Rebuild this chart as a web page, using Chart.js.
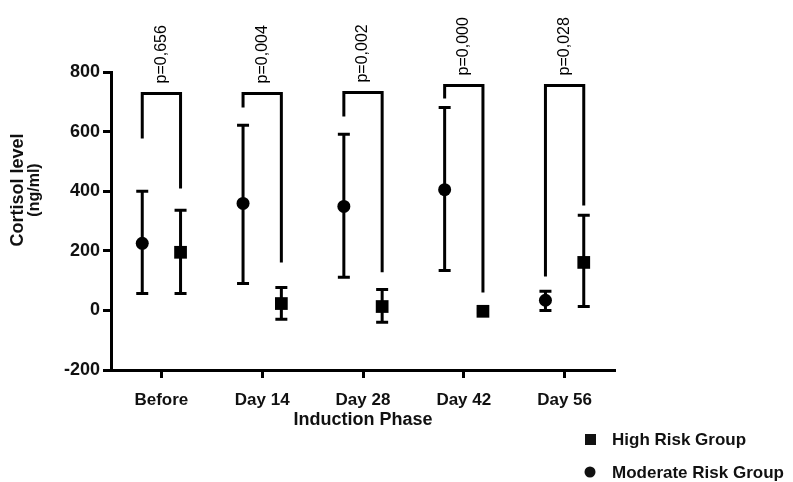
<!DOCTYPE html>
<html>
<head>
<meta charset="utf-8">
<script src="https://cdn.jsdelivr.net/npm/chart.js@4.4.0/dist/chart.umd.min.js"></script>
<style>
  html, body { margin: 0; padding: 0; background: #fff; }
  #wrap { position: relative; width: 793px; height: 482px; }
</style>
</head>
<body>
<div id="wrap"><canvas id="myChart" width="793" height="482"></canvas></div>
<script>
var categories = ['Before', 'Day 14', 'Day 28', 'Day 42', 'Day 56'];

// moderate risk group (circles, left of each pair)
var moderateMean  = [225, 359, 349, 405, 34];
var moderateUpper = [400, 621, 591, 681, 64];
var moderateLower = [57, 90, 111, 134, 0];

// high risk group (squares, right of each pair)
var highMean  = [195, 23, 13, -3, 161];
var highUpper = [336, 77, 70, 4, 319];
var highLower = [57, -30, -40, -8, 13];

// significance brackets
var pValues = ['p=0,656', 'p=0,004', 'p=0,002', 'p=0,000', 'p=0,028'];
var bracketTop = [728, 728, 731, 755, 755];
var bracketLeftEnd = [577, 681, 651, 711, 114];
var bracketRightEnd = [409, 161, 128, 60, 352];

var yTicks = [-200, 0, 200, 400, 600, 800];

var leftShift = -0.19, rightShift = 0.19;
var FONT = '"Liberation Sans", Arial, sans-serif';

function toPoints(means, shift) {
    var pts = [];
    for (var i = 0; i < means.length; i++) {
        pts.push({x: i + shift, y: means[i]});
    }
    return pts;
}

var extras = {
    id: 'extras',
    beforeDatasetsDraw: function(chart) {
        var ctx = chart.ctx, xs = chart.scales.x, ys = chart.scales.y;
        ctx.save();
        ctx.strokeStyle = '#000';
        ctx.lineWidth = 3;
        ctx.lineCap = 'butt';
        function errBar(xv, lo, hi) {
            var px = xs.getPixelForValue(xv);
            var top = ys.getPixelForValue(hi), bot = ys.getPixelForValue(lo);
            ctx.beginPath();
            ctx.moveTo(px, top); ctx.lineTo(px, bot);
            ctx.moveTo(px - 6, top); ctx.lineTo(px + 6, top);
            ctx.moveTo(px - 6, bot); ctx.lineTo(px + 6, bot);
            ctx.stroke();
        }
        for (var i = 0; i < categories.length; i++) {
            errBar(i + leftShift, moderateLower[i], moderateUpper[i]);
            errBar(i + rightShift, highLower[i], highUpper[i]);

            // bracket
            var lx = xs.getPixelForValue(i + leftShift), rx = xs.getPixelForValue(i + rightShift);
            var ty = ys.getPixelForValue(bracketTop[i]);
            ctx.beginPath();
            ctx.moveTo(lx, ys.getPixelForValue(bracketLeftEnd[i]));
            ctx.lineTo(lx, ty);
            ctx.lineTo(rx, ty);
            ctx.lineTo(rx, ys.getPixelForValue(bracketRightEnd[i]));
            ctx.stroke();

            // p value, rotated
            ctx.save();
            ctx.translate(xs.getPixelForValue(i), ty - 10);
            ctx.rotate(-Math.PI / 2);
            ctx.fillStyle = '#000';
            ctx.font = '16px ' + FONT;
            ctx.textAlign = 'left';
            ctx.textBaseline = 'middle';
            ctx.fillText(pValues[i], 0, 0);
            ctx.restore();
        }
        ctx.restore();
    },
    afterDraw: function(chart) {
        var ctx = chart.ctx, xs = chart.scales.x;
        ctx.save();
        ctx.fillStyle = '#111';
        ctx.font = 'bold 18px ' + FONT;
        ctx.textAlign = 'center';
        ctx.textBaseline = 'middle';
        // x title
        ctx.fillText('Induction Phase', (xs.left + xs.right) / 2, 420);
        // y title
        ctx.save();
        ctx.translate(18, 190);
        ctx.rotate(-Math.PI / 2);
        ctx.fillText('Cortisol level', 0, 0);
        ctx.font = 'bold 16px ' + FONT;
        ctx.fillText('(ng/ml)', 0, 17);
        ctx.restore();
        // legend
        ctx.font = 'bold 17px ' + FONT;
        ctx.textAlign = 'left';
        ctx.fillRect(585, 434, 11, 11);
        ctx.beginPath();
        ctx.arc(590, 472, 5.5, 0, Math.PI * 2);
        ctx.fill();
        ctx.fillText('High Risk Group', 612, 440);
        ctx.fillText('Moderate Risk Group', 612, 473);
        ctx.restore();
    }
};

var canvas = document.getElementById('myChart');
var ctx = canvas.getContext('2d');

var myNewChart = new Chart(ctx, {
    type: 'scatter',
    data: {
        datasets: [{
            label: 'Moderate Risk Group',
            data: toPoints(moderateMean, leftShift),
            pointStyle: 'circle',
            pointRadius: 6.5,
            backgroundColor: '#000',
            borderColor: '#000',
            borderWidth: 0
        }, {
            label: 'High Risk Group',
            data: toPoints(highMean, rightShift),
            pointStyle: 'rect',
            pointRadius: 9,
            backgroundColor: '#000',
            borderColor: '#000',
            borderWidth: 0
        }]
    },
    options: {
        responsive: false,
        animation: false,
        layout: {padding: {top: 72, right: 178, left: 0, bottom: 0}},
        plugins: {legend: {display: false}, tooltip: {enabled: false}},
        scales: {
            x: {
                type: 'linear',
                min: -0.5,
                max: 4.5,
                afterBuildTicks: function(s) {
                    s.ticks = categories.map(function(c, i) { return {value: i}; });
                },
                afterFit: function(s) { s.height = 112; },
                ticks: {
                    callback: function(v) { return categories[v]; },
                    font: {family: FONT, size: 17, weight: 'bold'},
                    color: '#111',
                    padding: 12,
                    maxRotation: 0
                },
                grid: {drawOnChartArea: false, tickLength: 8, tickWidth: 3, color: '#000'},
                border: {color: '#000', width: 3}
            },
            y: {
                min: -200,
                max: 800,
                afterBuildTicks: function(s) {
                    s.ticks = yTicks.map(function(v) { return {value: v}; });
                },
                afterFit: function(s) { s.width = 111; },
                ticks: {
                    font: {family: FONT, size: 18, weight: 'bold'},
                    color: '#111',
                    padding: 3
                },
                grid: {drawOnChartArea: false, tickLength: 8, tickWidth: 3, color: '#000'},
                border: {color: '#000', width: 3}
            }
        }
    },
    plugins: [extras]
});
</script>
</body>
</html>
